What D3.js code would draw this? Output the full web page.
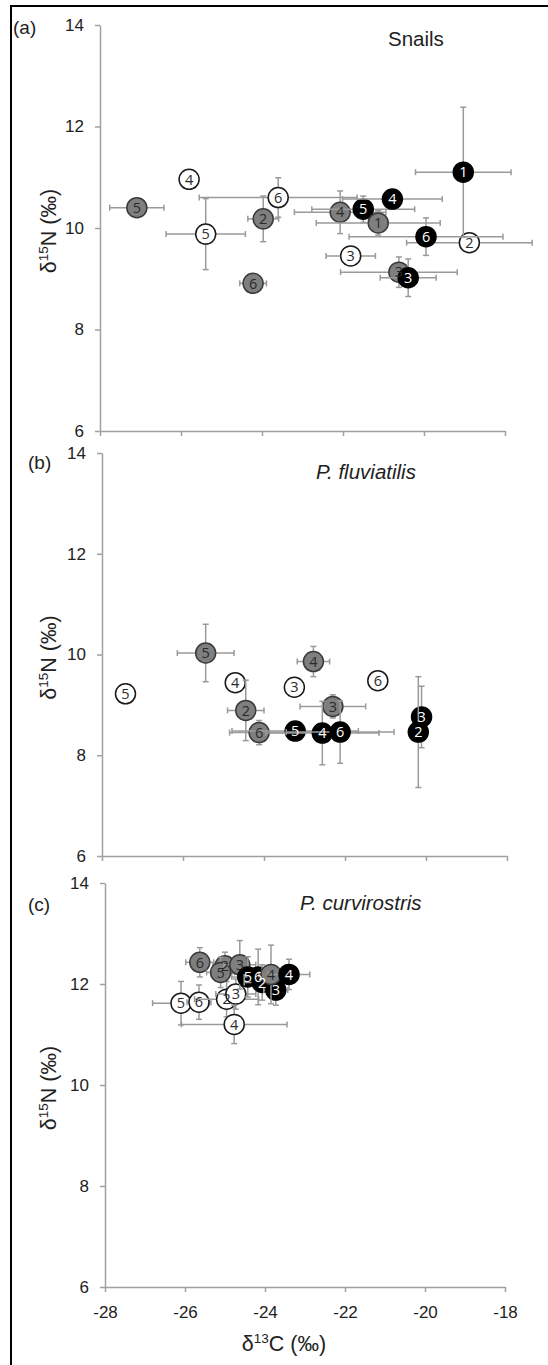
<!DOCTYPE html>
<html>
<head>
<meta charset="utf-8">
<script src="https://cdn.jsdelivr.net/npm/d3@7"></script>
<style>
body { margin: 0; background: #fff; }
svg { display: block; }
</style>
</head>
<body>
<div id="chart"></div>
<script>
// Width and height
var chart_width  = 548;
var chart_height = 1365;

// Axis ticks
var x_ticks = [-28, -26, -24, -22, -20, -18];
var y_ticks = [6, 8, 10, 12, 14];

// Rows: [group, label, d13C, d15N, d13C error, d15N error]
// group: w = open circle, g = grey, b = black (drawn in this order)
var snails = [
    ['w', '4', -25.80, 10.96, 0, 0],
    ['w', '5', -25.39, 9.88, 0.98, 0.70],
    ['w', '6', -23.60, 10.60, 1.95, 0.39],
    ['w', '3', -21.81, 9.45, 0.61, 0],
    ['w', '2', -18.88, 9.71, 1.55, 0],
    ['g', '5', -27.09, 10.40, 0.67, 0],
    ['g', '2', -23.97, 10.18, 0.38, 0.45],
    ['g', '6', -24.22, 8.91, 0.33, 0],
    ['g', '4', -22.07, 10.31, 1.13, 0.42],
    ['b', '5', -21.50, 10.37, 1.27, 0.26],
    ['g', '1', -21.13, 10.10, 1.53, 0.24],
    ['b', '4', -20.78, 10.57, 1.23, 0],
    ['b', '1', -19.03, 11.10, 1.18, 1.28],
    ['b', '6', -19.95, 9.83, 1.90, 0.37],
    ['g', '3', -20.62, 9.13, 1.44, 0.30],
    ['b', '3', -20.39, 9.02, 0.69, 0.37]
];

var fluviatilis = [
    ['w', '5', -27.42, 9.22, 0, 0],
    ['w', '4', -24.71, 9.44, 0, 0],
    ['w', '3', -23.25, 9.35, 0, 0],
    ['w', '6', -21.19, 9.48, 0, 0],
    ['g', '5', -25.44, 10.03, 0.70, 0.57],
    ['g', '2', -24.45, 8.89, 0.45, 0.60],
    ['g', '6', -24.12, 8.45, 0.73, 0.24],
    ['g', '4', -22.78, 9.86, 0.40, 0.30],
    ['g', '3', -22.30, 8.97, 0.81, 0.23],
    ['b', '5', -23.23, 8.48, 1.56, 0],
    ['b', '4', -22.56, 8.44, 1.40, 0.63],
    ['b', '6', -22.12, 8.46, 1.33, 0.62],
    ['b', '3', -20.11, 8.76, 0.20, 0.61],
    ['b', '2', -20.19, 8.46, 0.20, 1.10]
];

var curvirostris = [
    ['w', '5', -26.10, 11.62, 0.71, 0.43],
    ['w', '6', -25.65, 11.64, 0.30, 0.34],
    ['w', '2', -24.96, 11.70, 0.80, 0.35],
    ['w', '3', -24.73, 11.80, 0.50, 0.30],
    ['w', '4', -24.77, 11.20, 1.32, 0.38],
    ['g', '6', -25.63, 12.43, 0.35, 0.29],
    ['g', '2', -25.00, 12.36, 0.30, 0.27],
    ['g', '5', -25.11, 12.23, 0.35, 0.30],
    ['g', '3', -24.63, 12.38, 0.40, 0.48],
    ['b', '5', -24.43, 12.14, 0.40, 0.40],
    ['b', '6', -24.17, 12.14, 0.35, 0.55],
    ['b', '2', -24.07, 12.03, 0.45, 0.35],
    ['b', '3', -23.73, 11.88, 0.30, 0.30],
    ['g', '4', -23.85, 12.19, 0.30, 0.58],
    ['b', '4', -23.40, 12.19, 0.52, 0.30]
];

var panel_letters = ['(a)', '(b)', '(c)'];
var panel_titles  = ['Snails', 'P. fluviatilis', 'P. curvirostris'];

var fills   = { w: '#ffffff', g: '#7f7f7f', b: '#000000' };
var strokes = { w: '#1a1a1a', g: '#3a3a3a', b: '#000000' };
var labels  = { w: '#2a2a2a', g: '#2a2a2a', b: '#ffffff' };

var panels = [
    { data: snails,       x0: 100, x1: 505, top: 25,  bottom: 431,  letter: [13, 34],  title: [388, 46],  italic: false },
    { data: fluviatilis,  x0: 102, x1: 507, top: 453, bottom: 856,  letter: [28, 469], title: [316, 479], italic: true },
    { data: curvirostris, x0: 105, x1: 505, top: 883, bottom: 1287, letter: [28, 911], title: [300, 910], italic: true }
];

// Create SVG
var svg = d3.select('#chart')
    .append('svg')
    .attr('width', chart_width)
    .attr('height', chart_height)
    .style('font-family', '"Liberation Sans", Arial, sans-serif');

// frame (only left and top edges fall inside the picture)
svg.append('rect')
    .attr('x', 11).attr('y', 6)
    .attr('width', chart_width + 20).attr('height', chart_height + 20)
    .attr('fill', 'none')
    .attr('stroke', '#000')
    .attr('stroke-width', 2);

panels.forEach(function(p, i){
    var x = d3.scaleLinear().domain([-28, -18]).range([p.x0, p.x1]);
    var y = d3.scaleLinear().domain([6, 14]).range([p.bottom, p.top]);
    var g = svg.append('g');

    var y_axis = d3.axisLeft(y)
        .tickValues(y_ticks)
        .tickSize(5)
        .tickSizeOuter(0)
        .tickPadding(11)
        .tickFormat(function(d){ return String(d); });
    g.append('g')
        .attr('transform', 'translate(' + p.x0 + ',0)')
        .call(y_axis);

    var x_axis = d3.axisBottom(x)
        .tickValues(x_ticks)
        .tickSize(5)
        .tickSizeOuter(0)
        .tickPadding(14)
        .tickFormat(function(d){ return i === 2 ? String(d) : ''; });
    g.append('g')
        .attr('transform', 'translate(0,' + p.bottom + ')')
        .call(x_axis);

    g.selectAll('.domain, .tick line')
        .attr('stroke', '#a0a0a0')
        .attr('stroke-width', 1.5);
    g.selectAll('.tick text')
        .attr('fill', '#222')
        .style('font-size', '17px')
        .style('font-family', '"Liberation Sans", Arial, sans-serif');

    // y title
    var yt = g.append('text')
        .attr('transform', 'translate(56,' + (y(10) + 3) + ') rotate(-90)')
        .attr('text-anchor', 'middle')
        .attr('fill', '#222')
        .style('font-size', '21.5px');
    yt.append('tspan').text('δ');
    yt.append('tspan').attr('dy', -8).style('font-size', '13.5px').text('15');
    yt.append('tspan').attr('dy', 8).text('N (‰)');

    // panel letter and title
    g.append('text')
        .attr('x', p.letter[0]).attr('y', p.letter[1])
        .attr('fill', '#222')
        .style('font-size', '19px')
        .text(panel_letters[i]);
    g.append('text')
        .attr('x', p.title[0]).attr('y', p.title[1])
        .attr('fill', '#222')
        .style('font-size', '20.5px')
        .style('font-style', p.italic ? 'italic' : 'normal')
        .text(panel_titles[i]);

    // points: error bars then marker, in row order
    var pts = g.selectAll('g.pt')
        .data(p.data)
        .enter()
        .append('g')
        .attr('class', 'pt');

    pts.each(function(d){
        var el = d3.select(this);
        var cx = x(d[2]), cy = y(d[3]);
        var cap = 3;
        var bar = function(x1, y1, x2, y2){
            el.append('line')
                .attr('x1', x1).attr('y1', y1).attr('x2', x2).attr('y2', y2)
                .attr('stroke', '#9a9a9a')
                .attr('stroke-width', 1.5);
        };
        if (d[4] > 0) {
            var xa = x(d[2] - d[4]), xb = x(d[2] + d[4]);
            bar(xa, cy, xb, cy);
            bar(xa, cy - cap, xa, cy + cap);
            bar(xb, cy - cap, xb, cy + cap);
        }
        if (d[5] > 0) {
            var ya = y(d[3] - d[5]), yb = y(d[3] + d[5]);
            bar(cx, ya, cx, yb);
            bar(cx - cap, ya, cx + cap, ya);
            bar(cx - cap, yb, cx + cap, yb);
        }
        el.append('circle')
            .attr('cx', cx).attr('cy', cy)
            .attr('r', 10)
            .attr('fill', fills[d[0]])
            .attr('stroke', strokes[d[0]])
            .attr('stroke-width', 1.5);
    });

    // number labels sit above every marker
    g.selectAll('text.num')
        .data(p.data)
        .enter()
        .append('text')
        .attr('class', 'num')
        .attr('x', function(d){ return x(d[2]); })
        .attr('y', function(d){ return y(d[3]); })
        .attr('dy', '0.36em')
        .attr('text-anchor', 'middle')
        .attr('fill', function(d){ return labels[d[0]]; })
        .style('font-family', '"Open Sans", "DejaVu Sans", sans-serif')
        .style('font-size', '14.5px')
        .text(function(d){ return d[1]; });
});

// x title
var xt = svg.append('text')
    .attr('x', 284).attr('y', 1351)
    .attr('text-anchor', 'middle')
    .attr('fill', '#222')
    .style('font-size', '21.5px');
xt.append('tspan').text('δ');
xt.append('tspan').attr('dy', -8).style('font-size', '13.5px').text('13');
xt.append('tspan').attr('dy', 8).text('C (‰)');
</script>
</body>
</html>
